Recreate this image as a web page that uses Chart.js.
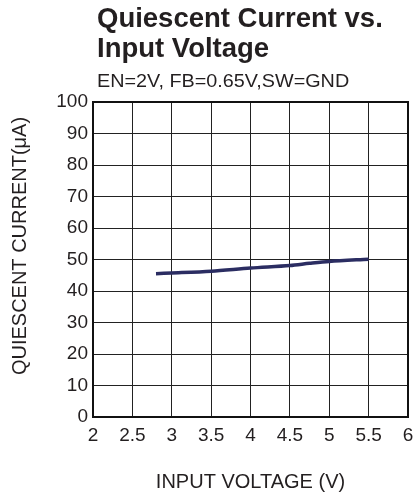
<!DOCTYPE html>
<html>
<head>
<meta charset="utf-8">
<script src="https://cdn.jsdelivr.net/npm/chart.js@4"></script>
<style>
html,body{margin:0;padding:0;background:#fff;}
#wrap{position:relative;width:416px;height:498px;}
canvas{display:block;}
</style>
</head>
<body>
<div id="wrap"><canvas id="c" width="416" height="498"></canvas></div>
<script>
const titleLines = ["Quiescent Current vs.", "Input Voltage"];
const subtitleText = "EN=2V, FB=0.65V,SW=GND";
const xAxisTitle = "INPUT VOLTAGE (V)";
const yAxisTitle = "QUIESCENT CURRENT(\u03bcA)";
const inputVoltage = [2.8, 3.0, 3.5, 4.0, 4.5, 4.75, 5.0, 5.5];
const quiescentCurrent = [45.5, 45.7, 46.3, 47.3, 48.1, 48.8, 49.4, 50.1];

const FONT = '"Liberation Sans", Arial, sans-serif';
const TEXT = '#231f20';

const textPlugin = {
  id: 'texts',
  afterDraw(chart) {
    const ctx = chart.ctx;
    const left = 97;
    ctx.save();
    ctx.fillStyle = TEXT;
    ctx.textAlign = 'left';
    ctx.textBaseline = 'alphabetic';
    ctx.font = 'bold 27.5px ' + FONT;
    ctx.fillText(titleLines[0], left, 27);
    ctx.fillText(titleLines[1], left, 57);
    ctx.save();
    ctx.translate(left, 87);
    ctx.scale(1.1, 1);
    ctx.font = '18px ' + FONT;
    ctx.fillText(subtitleText, 0, 0);
    ctx.restore();
    ctx.save();
    ctx.translate(20, 246);
    ctx.rotate(-Math.PI / 2);
    ctx.textAlign = 'center';
    ctx.textBaseline = 'middle';
    ctx.font = '20px ' + FONT;
    ctx.fillText(yAxisTitle, 0, 0);
    ctx.restore();
    ctx.restore();
  }
};

new Chart(document.getElementById('c'), {
  type: 'line',
  data: {
    datasets: [{
      data: inputVoltage.map((x, i) => ({x: x, y: quiescentCurrent[i]})),
      borderColor: '#2b2d62',
      borderWidth: 3.5,
      pointRadius: 0,
      tension: 0.3,
      fill: false
    }]
  },
  options: {
    responsive: false,
    animation: false,
    devicePixelRatio: 1,
    layout: { padding: { top: 102, right: 8, left: 0, bottom: 0 } },
    plugins: { legend: { display: false }, tooltip: { enabled: false } },
    scales: {
      x: {
        type: 'linear', min: 2, max: 6,
        ticks: { stepSize: 0.5, color: TEXT, padding: 7,
          font: { family: FONT, size: 19 },
          callback: v => String(v) },
        grid: { color: '#222', lineWidth: 1, drawTicks: false },
        border: { color: '#111', width: 2 },
        title: { display: true, text: xAxisTitle, color: TEXT,
          font: { family: FONT, size: 20 },
          padding: { top: 4, bottom: 4 } },
        afterFit(s) { s.height = 81; s.paddingLeft = 0; s.paddingRight = 0; }
      },
      y: {
        min: 0, max: 100,
        ticks: { stepSize: 10, color: TEXT, padding: 5,
          font: { family: FONT, size: 19 } },
        grid: { color: '#222', lineWidth: 1, drawTicks: false },
        border: { color: '#111', width: 2 },
        afterFit(s) { s.width = 93; s.paddingTop = 0; s.paddingBottom = 0; }
      }
    }
  },
  plugins: [textPlugin, {
    id: 'frame',
    afterDatasetsDraw(chart) {
      const {ctx, chartArea: a} = chart;
      ctx.save();
      ctx.strokeStyle = '#111';
      ctx.lineWidth = 2;
      ctx.strokeRect(a.left, a.top, a.right - a.left, a.bottom - a.top);
      ctx.restore();
    }
  }]
});
</script>
</body>
</html>
